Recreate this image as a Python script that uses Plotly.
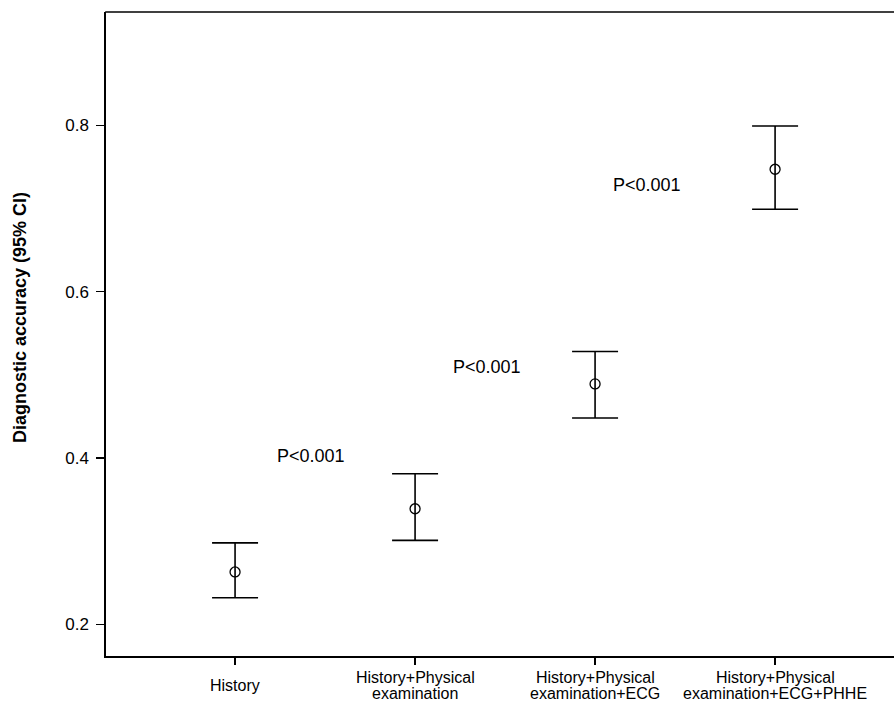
import plotly.graph_objects as go

categories = ["History", "History+Physical<br>examination", "History+Physical<br>examination+ECG",
              "History+Physical<br>examination+ECG+PHHE"]
accuracy = [0.263, 0.339, 0.489, 0.747]
ci_upper = [0.298, 0.381, 0.528, 0.799]
ci_lower = [0.232, 0.301, 0.448, 0.699]
p_labels = ["P<0.001", "P<0.001", "P<0.001"]
p_x = [0.42, 1.40, 2.29]
p_y = [0.402, 0.509, 0.728]
y_ticks = [0.2, 0.4, 0.6, 0.8]
y_title = "Diagnostic accuracy (95% CI)"

FONT = "Liberation Sans, Arial, Helvetica, sans-serif"
idx = list(range(len(categories)))
fig = go.Figure()
fig.add_trace(go.Scatter(
    x=idx, y=accuracy, mode="markers",
    marker=dict(symbol="circle-open", size=10, color="black", line=dict(width=1.3, color="black")),
    error_y=dict(type="data", symmetric=False,
                 array=[u - a for u, a in zip(ci_upper, accuracy)],
                 arrayminus=[a - l for a, l in zip(accuracy, ci_lower)],
                 color="black", thickness=1.6, width=23),
    showlegend=False, hoverinfo="skip",
))

for t, x, y in zip(p_labels, p_x, p_y):
    fig.add_annotation(x=x, y=y, text=t, showarrow=False,
                       font=dict(family=FONT, size=18, color="black"))

# category labels with tight line spacing, vertically centred like the original
line_gap = 16
for i, cat in enumerate(categories):
    lines = cat.split("<br>")
    n = len(lines)
    for j, ln in enumerate(lines):
        offset = 29 + (j - (n - 1) / 2) * line_gap
        fig.add_annotation(x=i, y=0, xref="x", yref="paper", text=ln, showarrow=False,
                           yanchor="middle", yshift=-offset,
                           font=dict(family=FONT, size=16, color="black"))

# y-axis title
fig.add_annotation(x=0, y=0.5, xref="paper", yref="paper", text=f"<b>{y_title}</b>",
                   textangle=-90, showarrow=False, xanchor="center", yanchor="middle",
                   xshift=-86, yshift=16, font=dict(family=FONT, size=18, color="black"))

# top frame line (no right border in the original)
fig.add_shape(type="line", xref="paper", yref="paper", x0=-0.001, x1=1, y0=1, y1=1,
              line=dict(color="black", width=1.6))

fig.update_layout(
    width=900, height=709,
    margin=dict(l=106, r=0, t=12, b=53),
    paper_bgcolor="white", plot_bgcolor="white",
    font=dict(family=FONT, color="black"),
    hovermode=False, dragmode=False,
    xaxis=dict(range=[-0.717, 3.694], tickmode="array", tickvals=idx, showticklabels=False,
               showgrid=False, zeroline=False, showline=True, mirror=False, showspikes=False,
               linecolor="black", linewidth=1.6, ticks="outside", ticklen=7,
               tickcolor="black", tickwidth=1.3, fixedrange=True),
    yaxis=dict(range=[0.162, 0.936], tickmode="array", tickvals=y_ticks,
               ticktext=[f"{v:.1f}" for v in y_ticks], showspikes=False, fixedrange=True,
               showgrid=False, zeroline=False, showline=True, mirror=False,
               linecolor="black", linewidth=1.6, ticks="outside", ticklen=8,
               tickcolor="black", tickwidth=1.3, ticklabelstandoff=4,
               tickfont=dict(family=FONT, size=17)),
)

fig.write_html("out.html", config={"displayModeBar": False, "staticPlot": True},
               post_script="document.body.style.margin='0';document.body.style.overflow='hidden';")
